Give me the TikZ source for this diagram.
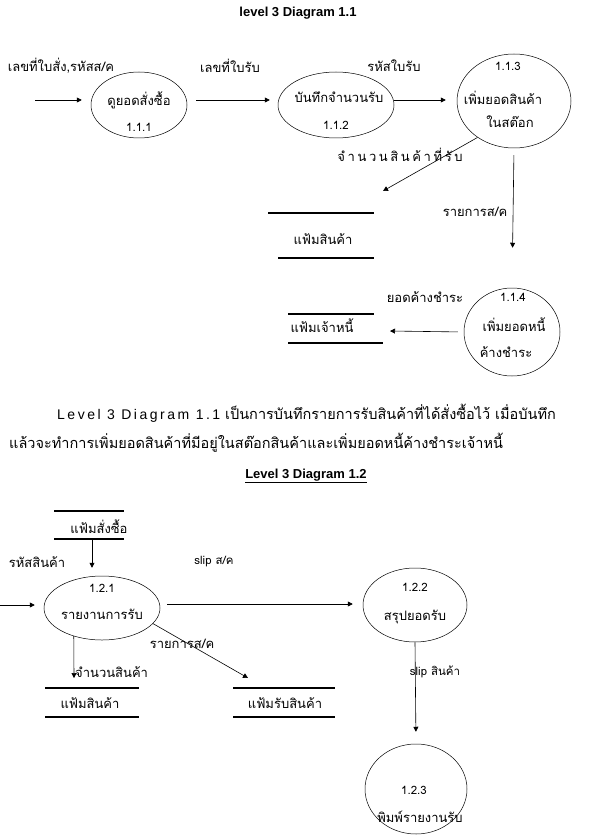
\documentclass[tikz,border=0pt]{standalone}
\usepackage{fontspec}
\setmainfont[Script=Thai]{Loma}
\newfontfamily\headfont{Liberation Sans}
\usetikzlibrary{arrows.meta,shapes.geometric,positioning}
\definecolor{ink}{HTML}{000000}
\tikzset{
  proc/.style={draw=ink,ellipse,inner sep=0pt,line width=0.5pt},
  storeline/.style={line width=1.5pt,ink},
  flow/.style={-{Triangle[length=5pt,width=5pt]},line width=0.6pt,ink},
  lbl/.style={font=\fontsize{13}{15}\selectfont,inner sep=0pt},
  num/.style={font=\fontsize{11.5}{13}\selectfont,inner sep=0pt},
  mixlbl/.style={font=\fontsize{11.5}{13}\selectfont,inner sep=0pt},
  paratext/.style={font=\fontsize{14.5}{17}\selectfont,inner sep=0pt,anchor=west},
  head/.style={font=\headfont\bfseries\fontsize{13}{15}\selectfont,inner sep=0pt},
}
\newcommand{\latpart}[1]{{\headfont\fontsize{14}{17}\selectfont\addfontfeature{LetterSpace=18}#1}}

\begin{document}
\begin{tikzpicture}[x=1pt,y=-1pt]
\useasboundingbox (0,0) rectangle (590,837);

% ---------- diagram 1.1 ----------
\node[head] (title1) at (298,13) {level 3 Diagram 1.1};

\node[proc,minimum width=96,minimum height=66] (p111) at (139,105) {};
\node[proc,minimum width=116,minimum height=66] (p112) at (336,105) {};
\node[proc,minimum width=114,minimum height=94] (p113) at (514,101) {};
\node[proc,minimum width=96,minimum height=88] (p114) at (512,332) {};

\node[lbl] (t111a) at (139,100) {ดูยอดสั่งซื้อ};
\node[num] (t111b) at (139,127) {1.1.1};
\node[lbl] (t112a) at (339,97) {บันทึกจำนวนรับ};
\node[num] (t112b) at (336,125) {1.1.2};
\node[num] (t113n) at (508,66) {1.1.3};
\node[lbl] (t113a) at (503,98) {เพิ่มยอดสินค้า};
\node[lbl] (t113b) at (510,122) {ในสต๊อก};
\node[num] (t114n) at (513,297) {1.1.4};
\node[lbl] (t114a) at (514,325) {เพิ่มยอดหนี้};
\node[lbl] (t114b) at (506,352) {ค้างชำระ};

% data stores
\node[lbl] (s1) at (323,239) {แฟ้มสินค้า};
\draw[storeline] (268,213) -- (374,213) (278,258) -- (374,258);
\node[lbl] (s2) at (322,326) {แฟ้มเจ้าหนี้};
\draw[storeline] (288,314) -- (374,314) (288,343) -- (383,343);

% flows
\coordinate (src1) at (35,100);
\coordinate (s1in) at (383,191);
\coordinate (s2in) at (390,331);
\draw[flow,shorten >=9pt] (src1) -- (p111.west |- src1);
\draw[flow,shorten <=9pt,shorten >=8pt] (p111.east |- src1) -- (p112.west |- src1);
\draw[flow,shorten >=11pt] (p112.east |- src1) -- (p113.west |- src1);
\draw[flow] (p113.225) -- (s1in);
\draw[flow,shorten <=7pt,shorten >=40pt] (p113.south) -- (p114.north);
\draw[flow,shorten <=6pt] (p114.west) -- (s2in);

\node[lbl] (f1) at (61,66) {เลขที่ใบสั่ง,รหัสส/ค};
\node[lbl] (f2) at (230,66) {เลขที่ใบรับ};
\node[lbl] (f3) at (394,66) {รหัสใบรับ};
\node[lbl,font=\fontsize{13}{15}\selectfont\addfontfeature{LetterSpace=20}] (f4) at (400,155) {จำนวนสินค้าที่รับ};
\node[lbl] (f5) at (475,212) {รายการส/ค};
\node[lbl] (f6) at (425,297) {ยอดค้างชำระ};

% ---------- description ----------
\node[paratext] (para1) at (57,413)
  {\latpart{Level 3 Diagram 1.1} เป็นการบันทึกรายการรับสินค้าที่ได้สั่งซื้อไว้ เมื่อบันทึก};
\node[paratext] (para2) at (9,443)
  {แล้วจะทำการเพิ่มยอดสินค้าที่มีอยู่ในสต๊อกสินค้าและเพิ่มยอดหนี้ค้างชำระเจ้าหนี้};

% ---------- diagram 1.2 ----------
\node[head] (title2) at (306,476) {\underline{Level 3 Diagram 1.2}};

\node[proc,minimum width=116,minimum height=64] (p121) at (102,608) {};
\node[proc,minimum width=104,minimum height=74] (p122) at (415,605) {};
\node[proc,minimum width=102,minimum height=90] (p123) at (416,789) {};

\node[num] (t121n) at (102,588) {1.2.1};
\node[lbl] (t121a) at (102,614) {รายงานการรับ};
\node[num] (t122n) at (415,587) {1.2.2};
\node[lbl] (t122a) at (415,617) {สรุปยอดรับ};
\node[num] (t123n) at (414,790) {1.2.3};
\node[lbl] (t123a) at (420,817) {พิมพ์รายงานรับ};

% data stores
\node[lbl] (s3) at (99,527) {แฟ้มสั่งซื้อ};
\draw[storeline] (54,511) -- (124,511) (54,539) -- (124,539);
\node[lbl] (s4) at (90,703) {แฟ้มสินค้า};
\draw[storeline] (45,688) -- (139,688) (45,717) -- (139,717);
\node[lbl] (s5) at (285,703) {แฟ้มรับสินค้า};
\draw[storeline] (233,688) -- (335,688) (233,717) -- (335,717);

% flows
\coordinate (s3out) at (92,540);
\coordinate (src2) at (0,605);
\coordinate (s4in) at (74,678);
\coordinate (s5in) at (248,678);
\draw[flow,shorten >=8pt] (s3out) -- (p121.north -| s3out);
\draw[flow,shorten >=9pt] (src2) -- (p121.west |- src2);
\draw[flow,shorten <=7pt,shorten >=10pt] (p121.east |- 0,604) -- (p122.west |- 0,604);
\draw[flow] (p121.225) -- (s4in);
\draw[flow] (p121.-17) -- (s5in);
\draw[flow,shorten >=12pt] (p122.south) -- (p123.north);

\node[lbl] (f7) at (37,562) {รหัสสินค้า};
\node[mixlbl] (f8) at (214,562) {slip ส/ค};
\node[lbl,anchor=west] (f9) at (75,672) {จำนวนสินค้า};
\node[lbl] (f10) at (182,644) {รายการส/ค};
\node[mixlbl] (f11) at (435,672) {slip สินค้า};
\end{tikzpicture}
\end{document}
